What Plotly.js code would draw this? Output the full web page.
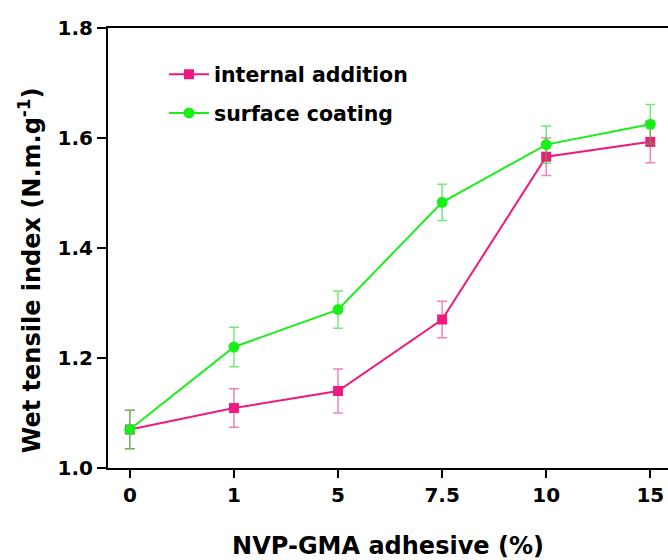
<!DOCTYPE html>
<html>
<head>
<meta charset="utf-8">
<script src="https://cdn.plot.ly/plotly-3.0.1.min.js"></script>
<style>html,body{margin:0;padding:0;background:#fff}#chart{width:668px;height:560px}</style>
</head>
<body>
<div id="chart"></div>
<script>
var categories = ["0", "1", "5", "7.5", "10", "15"];
var internalAddition = [1.07, 1.109, 1.14, 1.27, 1.566, 1.593];
var internalErr = [0.035, 0.035, 0.04, 0.033, 0.034, 0.038];
var surfaceCoating = [1.07, 1.22, 1.288, 1.483, 1.588, 1.625];
var surfaceErr = [0.035, 0.036, 0.034, 0.033, 0.034, 0.036];
var yTicks = [1.0, 1.2, 1.4, 1.6, 1.8];
var yTitle = "Wet tensile index (N.m.g<sup>-1</sup>)";
var xTitle = "NVP-GMA adhesive (%)";

var FONT = "DejaVu Sans, Liberation Sans, sans-serif";

var traces = [
  {
    name: "<b>internal addition</b>", legendgroup: "a", x: categories, y: internalAddition, type: "scatter", mode: "lines+markers",
    line: {color: "#ee1a7f", width: 2},
    marker: {symbol: "square", size: 10, color: "#ee1a7f"},
    error_y: {type: "data", array: internalErr, visible: true, color: "rgba(238,26,127,0.55)", thickness: 1.5, width: 5}
  },
  {
    name: "<b>surface coating</b>", legendgroup: "b", x: categories, y: surfaceCoating, type: "scatter", mode: "lines+markers",
    line: {color: "#1aee1a", width: 2},
    marker: {symbol: "circle", size: 11, color: "#1aee1a"},
    error_y: {type: "data", array: surfaceErr, visible: true, color: "rgba(26,220,26,0.6)", thickness: 1.5, width: 5}
  }
];

var layout = {
  width: 668, height: 560,
  margin: {l: 108, r: 0, t: 28, b: 92},
  paper_bgcolor: "#fff", plot_bgcolor: "#fff",
  font: {family: FONT, color: "#000"},
  showlegend: true,
  legend: {x: 0.1, y: 0.94, xanchor: "left", yanchor: "top", bgcolor: "rgba(0,0,0,0)",
           traceorder: "grouped", tracegroupgap: 9,
           font: {size: 20.5, family: FONT}, itemwidth: 40},
  xaxis: {
    type: "category", range: [-0.21, 5.17],
    tickvals: categories, ticktext: categories.map(function(c){return "<b>" + c + "</b>";}),
    showline: true, linecolor: "#000", linewidth: 2, mirror: true,
    ticks: "outside", ticklen: 8, tickwidth: 2, tickcolor: "#000",
    showgrid: false, zeroline: false,
    tickfont: {size: 20},
    title: {text: "<b>" + xTitle + "</b>", font: {size: 24}, standoff: 36}
  },
  yaxis: {
    range: [1.0, 1.8], tickvals: yTicks, ticktext: yTicks.map(function(v){return "<b>" + v.toFixed(1) + "</b>";}),
    showline: true, linecolor: "#000", linewidth: 2, mirror: false,
    ticks: "outside", ticklen: 9, tickwidth: 2, tickcolor: "#000",
    showgrid: false, zeroline: false,
    tickfont: {size: 20}
  },
  annotations: [{
    text: "<b>" + yTitle + "</b>", textangle: -90, showarrow: false,
    xref: "paper", yref: "paper", x: -0.139, y: 0.45, xanchor: "center", yanchor: "middle",
    font: {size: 24, family: FONT, color: "#000"}
  }]
};

Plotly.newPlot("chart", traces, layout, {displayModeBar: false, staticPlot: true});
</script>
</body>
</html>
